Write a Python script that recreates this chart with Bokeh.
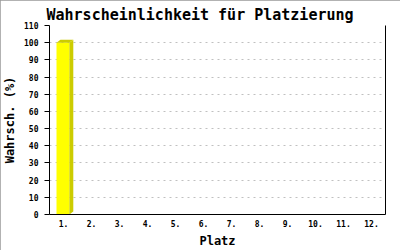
from bokeh.plotting import figure
from bokeh.models import FixedTicker, LinearAxis, Range1d
from bokeh.embed import file_html
from bokeh.resources import INLINE

# Placement probabilities per rank
places = ["1.", "2.", "3.", "4.", "5.", "6.", "7.", "8.", "9.", "10.", "11.", "12."]
probs = [100, 0, 0, 0, 0, 0, 0, 0, 0, 0, 0, 0]
y_ticks = [0, 10, 20, 30, 40, 50, 60, 70, 80, 90, 100, 110]

MONO = "DejaVu Sans Mono"
FRONT = "#ffff00"
SHADE = "#cccc00"

p = figure(width=400, height=250, output_backend="svg", toolbar_location=None,
           x_range=Range1d(0.5, len(places) + 0.5), y_range=Range1d(0, 110),
           min_border_left=48, min_border_right=15, min_border_top=25,
           min_border_bottom=36, background_fill_color="white",
           border_fill_color="white")
p.outline_line_color = None
p.styles = {"outline": "2px solid #999999", "outline-offset": "-2px"}

p.title.text = "Wahrscheinlichkeit für Platzierung"
p.title.text_font = MONO
p.title.text_font_size = "15px"
p.title.text_font_style = "bold"
p.title.text_color = "black"
p.title.offset = -3
p.title.standoff = 4

# Bars with a small 3D extrusion (front, side, top)
xs = list(range(1, len(places) + 1))
bar_w = 0.46
dx = 0.14
dy = 1.75
bars = [(x, v) for x, v in zip(xs, probs) if v > 0]
lefts = [x - 0.25 for x, v in bars]
rights = [l + bar_w for l in lefts]
tops = [v for x, v in bars]

p.quad(left=lefts, right=rights, bottom=0, top=tops, fill_color=FRONT,
       line_color=None)
p.patches(xs=[[r, r, r + dx, r + dx] for r in rights],
          ys=[[0, t, t + dy, dy] for t in tops],
          fill_color=SHADE, line_color=None)
p.patches(xs=[[l, l + dx, r + dx, r] for l, r in zip(lefts, rights)],
          ys=[[t, t + dy, t + dy, t] for t in tops],
          fill_color=SHADE, line_color=None)

# Axes
p.xaxis.ticker = FixedTicker(ticks=xs)
p.xaxis.major_label_overrides = {x: lab for x, lab in zip(xs, places)}
p.xaxis.major_tick_line_color = None
p.xaxis.major_tick_in = 0
p.xaxis.major_tick_out = 0
p.xaxis.minor_tick_line_color = None
p.xaxis.axis_line_color = "black"
p.xaxis.major_label_standoff = 5
p.xaxis.axis_label = "Platz"
p.xaxis.axis_label_standoff = 4

p.yaxis.ticker = FixedTicker(ticks=y_ticks)
p.yaxis.major_tick_in = 0
p.yaxis.major_tick_out = 5
p.yaxis.minor_tick_line_color = None
p.yaxis.major_tick_line_color = "black"
p.yaxis.axis_line_color = "black"
p.yaxis.major_label_standoff = 6
p.yaxis.axis_label = "Wahrsch. (%)"
p.yaxis.axis_label_standoff = 4

for ax in (p.xaxis[0], p.yaxis[0]):
    ax.major_label_text_font = MONO
    ax.major_label_text_font_size = "8px"
    ax.major_label_text_font_style = "bold"
    ax.major_label_text_color = "black"
    ax.axis_label_text_font = MONO
    ax.axis_label_text_font_size = "12px"
    ax.axis_label_text_font_style = "bold"
    ax.axis_label_text_color = "black"

right = LinearAxis(ticker=FixedTicker(ticks=[]), axis_line_color="black",
                   major_tick_line_color=None, minor_tick_line_color=None,
                   major_tick_in=0, major_tick_out=0,
                   major_label_text_font_size="0px")
p.add_layout(right, "right")

p.xgrid.grid_line_color = None
p.ygrid.ticker = FixedTicker(ticks=y_ticks[1:])
p.ygrid.grid_line_color = "#c0c0c0"
p.ygrid.grid_line_dash = "2 4"

open("out.html", "w").write(file_html(p, INLINE))
